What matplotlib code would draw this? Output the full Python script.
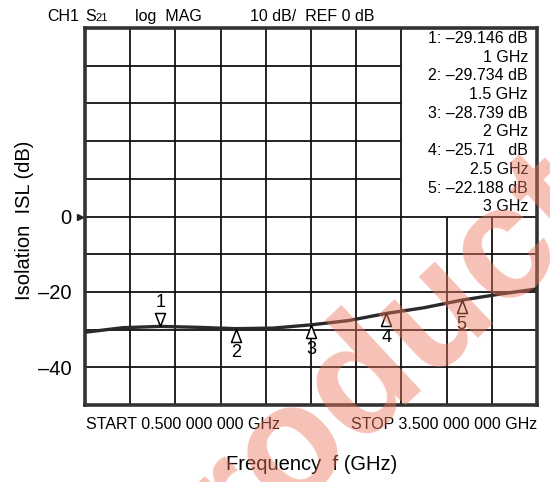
import matplotlib
matplotlib.use("Agg")
import matplotlib.pyplot as plt
from matplotlib.patches import Rectangle

plt.rcParams['font.family'] = ['Liberation Sans', 'DejaVu Sans']

# trace (GHz, dB)
freq = [0.5, 0.75, 1.0, 1.25, 1.5, 1.75, 2.0, 2.25, 2.5, 2.75, 3.0, 3.25, 3.5]
isl = [-30.7, -29.5, -29.15, -29.4, -29.75, -29.6, -28.74, -27.6, -25.71,
       -24.2, -22.19, -20.6, -19.2]

# marker readouts
marker_freq = [1.0, 1.5, 2.0, 2.5, 3.0]
marker_db = [-29.146, -29.734, -28.739, -25.71, -22.188]
marker_id = ['1', '2', '3', '4', '5']

ytick_vals = [0, -20, -40]
ytick_labels = ['0', '\u201320', '\u201340']

f_start, f_stop = 0.5, 3.5
ref_top, ref_bot = 50, -50

fig = plt.figure(figsize=(5.5, 4.82), dpi=100)
ax = fig.add_axes([85/550, 1-405/482, 452/550, 377/482])
ax.set_xlim(f_start, f_stop)
ax.set_ylim(ref_bot, ref_top)

# graticule: 10 x 10 divisions, upper right block left blank for readout
step = (f_stop - f_start) / 10
box_x = f_start + 7*step
for k in range(1, 10):
    x = f_start + k*step
    if k < 8:
        ax.vlines(x, ref_bot, ref_top, color='#111111', lw=1.3, zorder=1)
    else:
        ax.vlines(x, ref_bot, 0, color='#111111', lw=1.3, zorder=1)
for y in range(-40, 50, 10):
    if y > 0:
        ax.hlines(y, f_start, box_x, color='#111111', lw=1.3, zorder=1)
    else:
        ax.hlines(y, f_start, f_stop, color='#111111', lw=1.3, zorder=1)
ax.add_patch(Rectangle((box_x, 0), f_stop-box_x, ref_top, facecolor='white',
                       edgecolor='none', zorder=0.5))

for s in ax.spines.values():
    s.set_linewidth(2.6)
    s.set_color('#333333')

ax.plot(freq, isl, color='#2a2a2a', lw=2.4, zorder=3, solid_capstyle='butt')

# triangle markers with tip on the trace
tri_down = [(0, 0), (-0.385, 1), (0.385, 1), (0, 0)]
tri_up = [(0, 0), (-0.385, -1), (0.385, -1), (0, 0)]
for i, (f, d) in enumerate(zip(marker_freq, marker_db)):
    if i == 0:
        ax.plot(f, d, marker=tri_down, ms=18.7, mfc='white', mec='black',
                mew=1.1, zorder=4)
        ax.annotate(marker_id[i], (f, d), xytext=(0, 17.5), textcoords='offset points',
                    ha='center', va='center', fontsize=13, zorder=4)
    else:
        ax.plot(f, d, marker=tri_up, ms=18.7, mfc='white', mec='black',
                mew=1.1, zorder=4)
        ax.annotate(marker_id[i], (f, d), xytext=(0, -17.5), textcoords='offset points',
                    ha='center', va='center', fontsize=13, zorder=4)

# readout list in the blank block
lines = []
for m, f, d in zip(marker_id, marker_freq, marker_db):
    val = f"{abs(d):.3f}" if len(str(abs(d)).split('.')[1]) == 3 else f"{abs(d)}  "
    lines.append(f"{m}: \u2013{val} dB")
    lines.append(f"{f:g} GHz")
for k, t in enumerate(lines):
    ax.text(528/550, 1 - (43 + 18.7*k)/482, t, transform=fig.transFigure,
            ha='right', va='baseline', fontsize=11.5, zorder=5)

ax.set_xticks([])
ax.set_yticks(ytick_vals)
ax.set_yticklabels(ytick_labels, fontsize=14.5)
ax.tick_params(axis='y', length=0, pad=9.5)
ax.plot(-0.012, 0, marker='>', ms=4.5, color='#222222', clip_on=False,
        transform=ax.get_yaxis_transform(), zorder=5)

# header line
hy = 1 - 21/482
fig.text(47/550, hy, 'CH1', fontsize=11.5, va='baseline')
fig.text(85/550, hy, 'S', fontsize=11.5, va='baseline')
fig.text(95/550, hy, '21', fontsize=8, va='baseline')
fig.text(135/550, hy, 'log  MAG', fontsize=11.5, va='baseline')
fig.text(250/550, hy, '10 dB/  REF 0 dB', fontsize=11.5, va='baseline')

fig.text(86/550, 1 - 429/482, 'START 0.500 000 000 GHz', fontsize=11.5, va='baseline')
fig.text(537/550, 1 - 429/482, 'STOP 3.500 000 000 GHz', fontsize=11.5,
         va='baseline', ha='right')

fig.text(24/550, 1 - 220/482, 'Isolation  ISL (dB)', rotation=90, fontsize=14.5,
         ha='center', va='center')
fig.text(312/550, 1 - 464/482, 'Frequency  f (GHz)', fontsize=14.5,
         ha='center', va='center')

# datasheet watermark
fig.text(381/550, 1 - 418/482, 'Product', rotation=43, rotation_mode='anchor',
         ha='center', va='baseline', fontsize=116, fontweight='bold',
         color=(0.93, 0.47, 0.37), alpha=0.45, zorder=10)

fig.savefig('out.png', dpi=100)
